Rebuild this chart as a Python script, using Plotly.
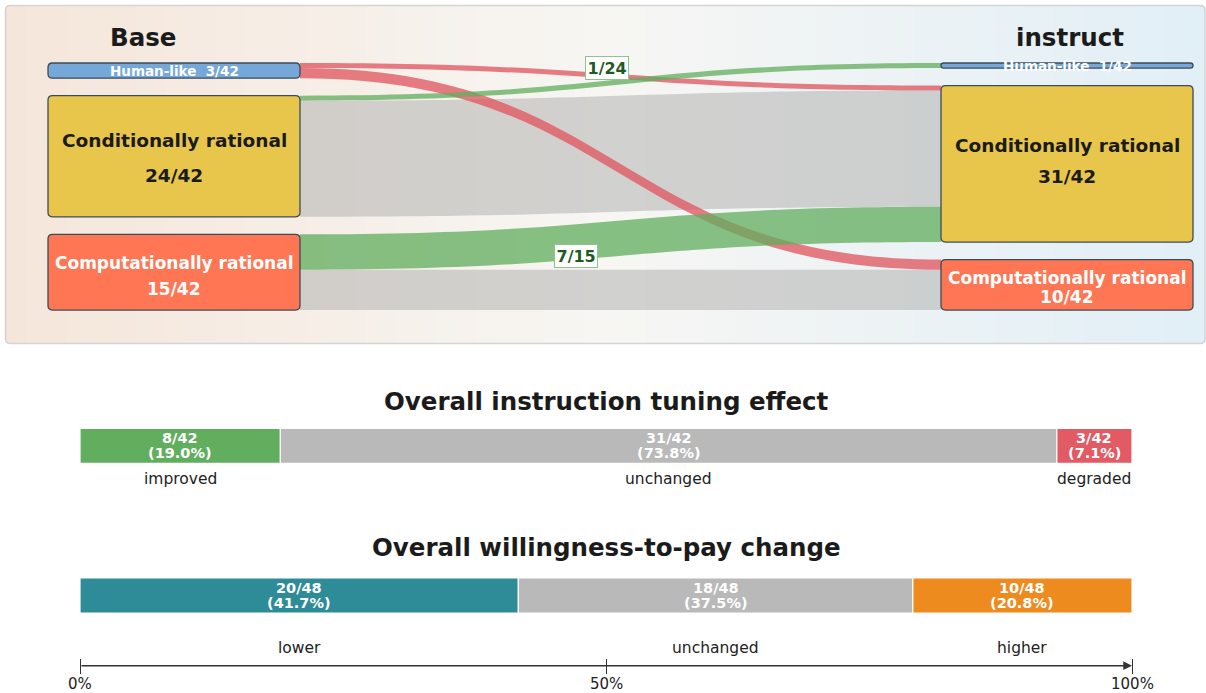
import plotly.graph_objects as go

# ---------------- data ----------------
categories = ["Human-like", "Conditionally rational", "Computationally rational"]
base_counts = [3, 24, 15]
instruct_counts = [1, 31, 10]
# transitions[i][j]: Base category i -> instruct category j
transitions = [
    [0, 1, 2],
    [1, 23, 0],
    [0, 7, 8],
]
models_total = 42

effect_labels = ["improved", "unchanged", "degraded"]
effect_counts = [8, 31, 3]
effect_total = 42

wtp_labels = ["lower", "unchanged", "higher"]
wtp_counts = [20, 18, 10]
wtp_total = 48

tick_vals = [0, 50, 100]
tick_text = ["0%", "50%", "100%"]

# ---------------- style / layout constants ----------------
W, H = 1206, 693
FONT = "DejaVu Sans"
DARK = "#1b1b1b"
PXU = 5.05            # pixels per model in the flow diagram
TOP_PX = 63           # top of the node stacks (px)
GAP = 17.5 / PXU      # gap between nodes (model units)
LEFT_X = (48, 300)
RIGHT_X = (941, 1193)
NODE_COLORS = ["#75a8d8", "#e8c64c", "#fe7654"]
NODE_TEXT = ["white", DARK, "white"]
NODE_LINE = "#3d4b58"
FLOW_GRAY = "rgba(186,186,184,0.62)"
FLOW_RED = "rgba(224,88,98,0.78)"
FLOW_GREEN = "rgba(98,174,94,0.76)"

EFFECT_COLORS = ["#62ae5f", "#b8b9b8", "#e25a63"]
WTP_COLORS = ["#2e8b98", "#b8b9b8", "#ee8b1f"]
ROW_PX = [445.8, 595.5]
ROW_STEP = ROW_PX[1] - ROW_PX[0]
BAR_THICK = 35 / ROW_STEP


def u_from_px(p):
    return (p - TOP_PX) / PXU


def y2_from_px(p):
    return (p - ROW_PX[0]) / ROW_STEP


def rounded_path(x0, x1, y0, y1, rx, ry):
    return (f"M {x0+rx},{y0} L {x1-rx},{y0} Q {x1},{y0} {x1},{y0+ry} "
            f"L {x1},{y1-ry} Q {x1},{y1} {x1-rx},{y1} L {x0+rx},{y1} "
            f"Q {x0},{y1} {x0},{y1-ry} L {x0},{y0+ry} Q {x0},{y0} {x0+rx},{y0} Z")


def ann(**kw):
    kw.setdefault("showarrow", False)
    kw.setdefault("xanchor", "center")
    kw.setdefault("yanchor", "middle")
    return kw


fig = go.Figure()
shapes = []
annotations = []

# ---------------- panel background (gradient) ----------------
stops = [(0.0, (245, 230, 218)), (0.5, (247, 246, 243)), (1.0, (225, 239, 247))]


def grad(t):
    for (t0, c0), (t1, c1) in zip(stops[:-1], stops[1:]):
        if t <= t1:
            f = (t - t0) / (t1 - t0)
            return "rgb(%d,%d,%d)" % tuple(round(a + (b - a) * f) for a, b in zip(c0, c1))
    return "rgb(%d,%d,%d)" % stops[-1][1]


PX0, PX1, PY0, PY1 = 6, 1204.5, 6, 343
NSTRIP = 120
for k in range(NSTRIP):
    xa = PX0 + (PX1 - PX0) * k / NSTRIP
    xb = PX0 + (PX1 - PX0) * (k + 1) / NSTRIP + 0.6
    shapes.append(dict(type="rect", xref="paper", yref="paper", layer="below",
                       x0=xa / W, x1=min(xb, PX1) / W, y0=1 - PY0 / H, y1=1 - PY1 / H,
                       fillcolor=grad((k + 0.5) / NSTRIP), line=dict(width=0)))
shapes.append(dict(type="path", xref="paper", yref="paper", layer="below",
                   path=rounded_path(5.5 / W, 1205 / W, 1 - 5.5 / H, 1 - 343.5 / H, 5 / W, -5 / H),
                   line=dict(color="#d4d4d4", width=1.6), fillcolor="rgba(0,0,0,0)"))

# ---------------- node positions ----------------
def stack(counts):
    pos, y = [], 0.0
    for c in counts:
        pos.append((y, y + c))
        y += c + GAP
    return pos


left_pos = stack(base_counts)
right_pos = stack(instruct_counts)

# ---------------- flows ----------------
flows = []
for i in range(3):
    for j in range(3):
        v = transitions[i][j]
        if v <= 0:
            continue
        s_off = sum(transitions[i][:j])
        t_off = sum(transitions[k][j] for k in range(i))
        ya0 = left_pos[i][0] + s_off
        yb0 = right_pos[j][0] + t_off
        kind = 0 if i == j else (1 if j > i else 2)
        flows.append((kind, i, j, v, ya0, ya0 + v, yb0, yb0 + v))

x0f, x1f = LEFT_X[1], RIGHT_X[0]
xm = (x0f + x1f) / 2
flow_colors = {0: FLOW_GRAY, 1: FLOW_RED, 2: FLOW_GREEN}
for kind in (0, 1, 2):
    for (k, i, j, v, ya0, ya1, yb0, yb1) in flows:
        if k != kind:
            continue
        path = (f"M {x0f},{ya0} C {xm},{ya0} {xm},{yb0} {x1f},{yb0} "
                f"L {x1f},{yb1} C {xm},{yb1} {xm},{ya1} {x0f},{ya1} Z")
        shapes.append(dict(type="path", xref="x", yref="y", path=path,
                           fillcolor=flow_colors[kind], line=dict(width=0)))

# flow labels for improved transitions
label_shift = {(1, 0): (-13.5, 14.2), (2, 1): (-44.5, -17.5)}
for (k, i, j, v, ya0, ya1, yb0, yb1) in flows:
    if k == 2:
        dx, dy = label_shift.get((i, j), (0, 0))
        annotations.append(ann(
            x=xm, y=(ya0 + ya1 + yb0 + yb1) / 4, xref="x", yref="y",
            text=f"<b>{v}/{base_counts[i]}</b>",
            xshift=dx, yshift=dy,
            font=dict(family=FONT, size=16, color="#1f5a22"),
            bgcolor="white", bordercolor="#8fc48c", borderwidth=1, borderpad=1.5))

# ---------------- nodes ----------------
node_label_shift = {
    ("L", 1): (15.3, -19.7), ("R", 1): (18.8, -12.2),
    ("L", 2): (9.2, -16.8), ("R", 2): (6.9, -12.1),
}
node_font = {1: 18.5, 2: 17}
for side, xs, pos, counts in (("L", LEFT_X, left_pos, base_counts),
                              ("R", RIGHT_X, right_pos, instruct_counts)):
    xc = (xs[0] + xs[1]) / 2
    for k, (y0, y1) in enumerate(pos):
        hpx = (y1 - y0) * PXU
        r = min(4.5, hpx / 2)
        shapes.append(dict(type="path", xref="x", yref="y",
                           path=rounded_path(xs[0], xs[1], y0, y1, r, r / PXU),
                           fillcolor=NODE_COLORS[k], line=dict(color=NODE_LINE, width=1.3)))
        yc = (y0 + y1) / 2
        if k == 0:
            annotations.append(ann(
                x=xc, y=yc, xref="x", yref="y",
                text=f"<b>{categories[k]}\u00a0\u00a0{counts[k]}/{models_total}</b>",
                font=dict(family=FONT, size=13.5, color=NODE_TEXT[k])))
        else:
            s1, s2 = node_label_shift[(side, k)]
            annotations.append(ann(
                x=xc, y=yc, xref="x", yref="y", yshift=s1,
                text=f"<b>{categories[k]}</b>",
                font=dict(family=FONT, size=node_font[k], color=NODE_TEXT[k])))
            annotations.append(ann(
                x=xc, y=yc, xref="x", yref="y", yshift=s2,
                text=f"<b>{counts[k]}/{models_total}</b>",
                font=dict(family=FONT, size=node_font[k], color=NODE_TEXT[k])))

# column titles
for txt, xp in (("Base", 143), ("instruct", 1070)):
    annotations.append(ann(x=xp / W, y=1 - 37 / H, xref="paper", yref="paper",
                           text=f"<b>{txt}</b>",
                           font=dict(family=FONT, size=24.5, color=DARK)))

# ---------------- summary bars ----------------
bar_sets = [
    ("Overall instruction tuning effect", effect_labels, effect_counts, effect_total, EFFECT_COLORS, 401, 33.2),
    ("Overall willingness-to-pay change", wtp_labels, wtp_counts, wtp_total, WTP_COLORS, 547, 52.5),
]
for row, (title, labels, counts, total, colors, title_px, lab_off) in enumerate(bar_sets):
    pcts = [100 * c / total for c in counts]
    bases = [sum(pcts[:k]) for k in range(len(pcts))]
    fig.add_trace(go.Bar(
        x=pcts, y=[row] * len(pcts), base=bases, orientation="h",
        width=BAR_THICK, xaxis="x2", yaxis="y2",
        marker=dict(color=colors, line=dict(color="white", width=1.2)),
        hoverinfo="skip", showlegend=False))
    for c, p, b, lab in zip(counts, pcts, bases, labels):
        cx = b + p / 2
        annotations.append(ann(x=cx, y=row, xref="x2", yref="y2",
                               yshift=7.6, text=f"<b>{c}/{total}</b>",
                               font=dict(family=FONT, size=14.5, color="white")))
        annotations.append(ann(x=cx, y=row, xref="x2", yref="y2",
                               yshift=-7.0, text=f"<b>({p:.1f}%)</b>",
                               font=dict(family=FONT, size=14.5, color="white")))
        annotations.append(ann(x=cx, y=row, xref="x2", yref="y2",
                               yshift=-lab_off, text=lab,
                               font=dict(family=FONT, size=15.5, color="#222222")))
    annotations.append(ann(x=0.5, y=1 - title_px / H, xref="x2 domain", yref="paper",
                           text=f"<b>{title}</b>",
                           font=dict(family=FONT, size=24.5, color=DARK)))

# axis line with arrow, and tick labels
axis_y = y2_from_px(665.7)
annotations.append(dict(x=tick_vals[-1], y=axis_y, xref="x2", yref="y2",
                        ax=tick_vals[0], ay=axis_y, axref="x2", ayref="y2",
                        text="", showarrow=True, arrowhead=2, arrowsize=1.25,
                        arrowwidth=1.4, arrowcolor="#333333"))
for tv, tt in zip(tick_vals, tick_text):
    annotations.append(ann(x=tv, y=axis_y, xref="x2", yref="y2", yshift=-18.3,
                           text=tt, font=dict(family=FONT, size=15, color="#222222")))

fig.update_layout(
    width=W, height=H, autosize=False,
    margin=dict(l=0, r=0, t=0, b=0, pad=0, autoexpand=False),
    paper_bgcolor="white", plot_bgcolor="rgba(0,0,0,0)",
    barmode="overlay", hovermode=False, showlegend=False,
    shapes=shapes, annotations=annotations,
    xaxis=dict(domain=[0, 1], range=[0, W], visible=False, fixedrange=True),
    yaxis=dict(domain=[0, 1], range=[u_from_px(H), u_from_px(0)], visible=False, fixedrange=True),
    xaxis2=dict(domain=[80 / W, 1132 / W], range=[0, 100], anchor="free",
                position=1 - 657.7 / H, side="bottom", automargin=False,
                ticks="outside", ticklen=15.5, tickwidth=1.3, tickcolor="#333333",
                tickvals=tick_vals, showticklabels=False, showgrid=False,
                zeroline=False, showline=False, fixedrange=True),
    yaxis2=dict(domain=[0, 1], range=[y2_from_px(H), y2_from_px(0)], anchor="x2",
                visible=False, fixedrange=True),
)

fig.write_html(
    "out.html",
    config={"displayModeBar": False, "responsive": False},
    post_script="document.body.style.margin='0px';document.body.style.overflow='hidden';",
)
